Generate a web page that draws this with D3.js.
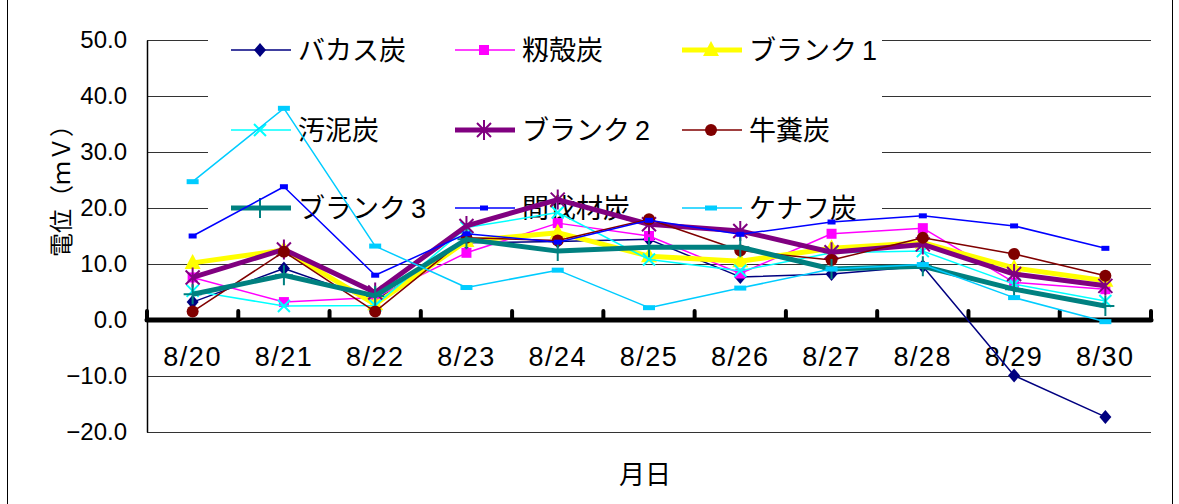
<!DOCTYPE html>
<html lang="ja">
<head>
<meta charset="UTF-8">
<title>電位の推移</title>
<script src="https://d3js.org/d3.v7.min.js"></script>
<style>
    body { margin: 0; background: #fff; }
    svg { display: block; }
    .tick-label { font-family: "Liberation Sans", Arial, sans-serif; font-size: 24px; fill: #000; }
    .cat-label { font-family: "Liberation Sans Narrow", "Liberation Sans", Arial, sans-serif; font-size: 27px; letter-spacing: 1.5px; fill: #000; }
    .jp { font-family: "Noto Sans CJK JP", sans-serif; fill: #000; }
</style>
</head>
<body>
<svg id="chart" width="1179" height="504"></svg>
<script>
// categories (dates)
const categories = ["8/20", "8/21", "8/22", "8/23", "8/24", "8/25", "8/26", "8/27", "8/28", "8/29", "8/30"];
const yTicks = [-20, -10, 0, 10, 20, 30, 40, 50];

// series values (mV)
const bagasse  = [3.2, 9.2, 3.5, 13.8, 14.0, 14.4, 7.7, 8.2, 9.6, -9.9, -17.3];   // バカス炭
const momigara = [7.6, 3.2, 4.0, 12.0, 17.3, 15.0, 8.3, 15.4, 16.4, 6.7, 5.5];    // 籾殻炭
const blank1   = [10.2, 12.5, 2.8, 14.1, 15.6, 11.4, 10.5, 12.8, 13.8, 9.3, 7.0]; // ブランク1
const odei     = [5.2, 2.5, 2.6, 16.5, 19.2, 10.8, 8.8, 12.0, 12.3, 6.4, 3.4];    // 汚泥炭
const blank2   = [7.6, 12.6, 4.9, 16.8, 21.5, 17.1, 15.9, 12.1, 13.5, 8.2, 6.1];  // ブランク2
const gyufun   = [1.5, 12.2, 1.5, 14.7, 14.2, 18.0, 12.4, 10.7, 14.7, 11.8, 7.9]; // 牛糞炭
const blank3   = [4.6, 8.0, 4.3, 14.4, 12.3, 13.0, 13.0, 9.1, 9.6, 5.5, 2.5];     // ブランク3
const kanbatsu = [15.0, 23.8, 8.0, 15.4, 13.9, 17.8, 15.3, 17.5, 18.6, 16.8, 12.8]; // 間伐材炭
const kenaf    = [24.7, 37.8, 13.2, 5.8, 8.9, 2.2, 5.7, 9.1, 9.9, 4.0, -0.3];     // ケナフ炭

const series = [
    { name: "バカス炭", num: "", values: bagasse, color: "#000080", width: 1.5, marker: "diamond" },
    { name: "籾殻炭", num: "", values: momigara, color: "#FF00FF", width: 1.5, marker: "square" },
    { name: "ブランク", num: "1", values: blank1, color: "#FFFF00", width: 5, marker: "triangle" },
    { name: "汚泥炭", num: "", values: odei, color: "#00FFFF", width: 1.5, marker: "x" },
    { name: "ブランク", num: "2", values: blank2, color: "#800080", width: 5, marker: "star" },
    { name: "牛糞炭", num: "", values: gyufun, color: "#800000", width: 1.5, marker: "circle" },
    { name: "ブランク", num: "3", values: blank3, color: "#008080", width: 5, marker: "plus" },
    { name: "間伐材炭", num: "", values: kanbatsu, color: "#0000FF", width: 1.5, marker: "dashS" },
    { name: "ケナフ炭", num: "", values: kenaf, color: "#00CCFF", width: 1.5, marker: "dashL" }
];

const svg = d3.select("#chart");

const plotLeft = 147, plotRight = 1151, plotTop = 40, plotBottom = 432;

const x = d3.scaleBand().domain(categories).range([plotLeft, plotRight]);
const y = d3.scaleLinear().domain([-20, 50]).range([plotBottom, plotTop]);

// outer frame
svg.append("rect")
    .attr("x", 7.5).attr("y", -2)
    .attr("width", 1165).attr("height", 510)
    .attr("fill", "none").attr("stroke", "#000").attr("stroke-width", 1);

// gridlines
svg.append("g").selectAll("line")
    .data(yTicks.filter(d => d !== 0))
    .enter().append("line")
    .attr("x1", plotLeft).attr("x2", plotRight)
    .attr("y1", d => Math.round(y(d)) + 0.5).attr("y2", d => Math.round(y(d)) + 0.5)
    .attr("stroke", "#333").attr("stroke-width", 1);

// y axis
const yAxis = svg.append("g")
    .attr("transform", `translate(${plotLeft},0)`)
    .call(d3.axisLeft(y).tickValues(yTicks).tickSize(0).tickPadding(20).tickFormat(d3.format(".1f")));
yAxis.select(".domain").attr("stroke", "#000").attr("stroke-width", 1.5);
yAxis.selectAll("text").attr("class", "tick-label").attr("font-size", null).attr("font-family", null);

svg.append("text")
    .attr("class", "jp")
    .attr("transform", `translate(70,185) rotate(-90)`)
    .attr("text-anchor", "middle")
    .attr("font-size", 24)
    .text("電位（ｍＶ）");

// legend background (hides gridlines behind it)
svg.append("rect")
    .attr("x", 208).attr("y", 22)
    .attr("width", 674).attr("height", 206)
    .attr("fill", "#fff");

// marker drawing
function drawMarker(g, type, color) {
    if (type === "diamond") {
        g.append("path").attr("d", "M0,-7L6,0L0,7L-6,0Z").attr("fill", color);
    } else if (type === "square") {
        g.append("rect").attr("x", -5).attr("y", -5).attr("width", 10).attr("height", 10).attr("fill", color);
    } else if (type === "triangle") {
        g.append("path").attr("d", "M0,-9L8,6L-8,6Z").attr("fill", color);
    } else if (type === "circle") {
        g.append("circle").attr("r", 6).attr("fill", color);
    } else if (type === "x") {
        g.append("path").attr("d", "M-6,-6L6,6M-6,6L6,-6").attr("stroke", color).attr("stroke-width", 2).attr("fill", "none");
    } else if (type === "star") {
        g.append("path").attr("d", "M-7,-7L7,7M-7,7L7,-7M0,-10L0,10").attr("stroke", color).attr("stroke-width", 2).attr("fill", "none");
    } else if (type === "plus") {
        g.append("path").attr("d", "M-9,0L9,0M0,-10L0,10").attr("stroke", color).attr("stroke-width", 2).attr("fill", "none");
    } else if (type === "dashS") {
        g.append("rect").attr("x", -4).attr("y", -2.5).attr("width", 8).attr("height", 5).attr("fill", color);
    } else if (type === "dashL") {
        g.append("rect").attr("x", -6).attr("y", -2.5).attr("width", 12).attr("height", 5).attr("fill", color);
    }
}

// legend
const legCols = [231, 455, 682];
const legRows = [50, 130, 208];
series.forEach((s, i) => {
    const lx = legCols[i % 3], ly = legRows[Math.floor(i / 3)];
    const g = svg.append("g");
    g.append("line")
        .attr("x1", lx).attr("x2", lx + 60)
        .attr("y1", ly).attr("y2", ly)
        .attr("stroke", s.color).attr("stroke-width", s.width);
    drawMarker(g.append("g").attr("transform", `translate(${lx + 29},${ly})`), s.marker, s.color);
    const t = g.append("text")
        .attr("class", "jp")
        .attr("x", lx + 67).attr("y", ly)
        .attr("dy", "0.36em")
        .attr("font-size", 27)
        .text(s.name);
    if (s.num) {
        t.append("tspan")
            .attr("dx", 5)
            .attr("font-family", "Liberation Sans Narrow, Liberation Sans, sans-serif")
            .attr("font-size", 27)
            .text(s.num);
    }
});

// x axis: thick zero line with inward ticks at category boundaries
const xAxis = svg.append("g")
    .attr("transform", `translate(0,${y(0)})`)
    .call(d3.axisBottom(x).tickSize(0).tickPadding(27));
xAxis.select(".domain").remove();
xAxis.selectAll("text").attr("class", "cat-label").attr("font-size", null).attr("font-family", null);

const bounds = d3.range(categories.length + 1).map(i => plotLeft + i * x.step());
svg.append("g").selectAll("line")
    .data(bounds)
    .enter().append("line")
    .attr("x1", d => d).attr("x2", d => d)
    .attr("y1", y(0)).attr("y2", y(0) - 9)
    .attr("stroke", "#000").attr("stroke-width", 4).attr("stroke-linecap", "round");
svg.append("line")
    .attr("x1", plotLeft).attr("x2", plotRight)
    .attr("y1", y(0)).attr("y2", y(0))
    .attr("stroke", "#000").attr("stroke-width", 5).attr("stroke-linecap", "round");

svg.append("text")
    .attr("class", "jp")
    .attr("x", 645).attr("y", 475)
    .attr("dy", "0.36em")
    .attr("text-anchor", "middle")
    .attr("font-size", 26)
    .text("月日");

// series lines and markers
const line = d3.line()
    .x((d, i) => x(categories[i]) + x.bandwidth() / 2)
    .y(d => y(d));

series.forEach(s => {
    svg.append("path")
        .datum(s.values)
        .attr("fill", "none")
        .attr("stroke", s.color)
        .attr("stroke-width", s.width)
        .attr("stroke-linejoin", "round")
        .attr("d", line);
    s.values.forEach((v, i) => {
        drawMarker(
            svg.append("g").attr("transform", `translate(${x(categories[i]) + x.bandwidth() / 2},${y(v)})`),
            s.marker, s.color);
    });
});
</script>
</body>
</html>
